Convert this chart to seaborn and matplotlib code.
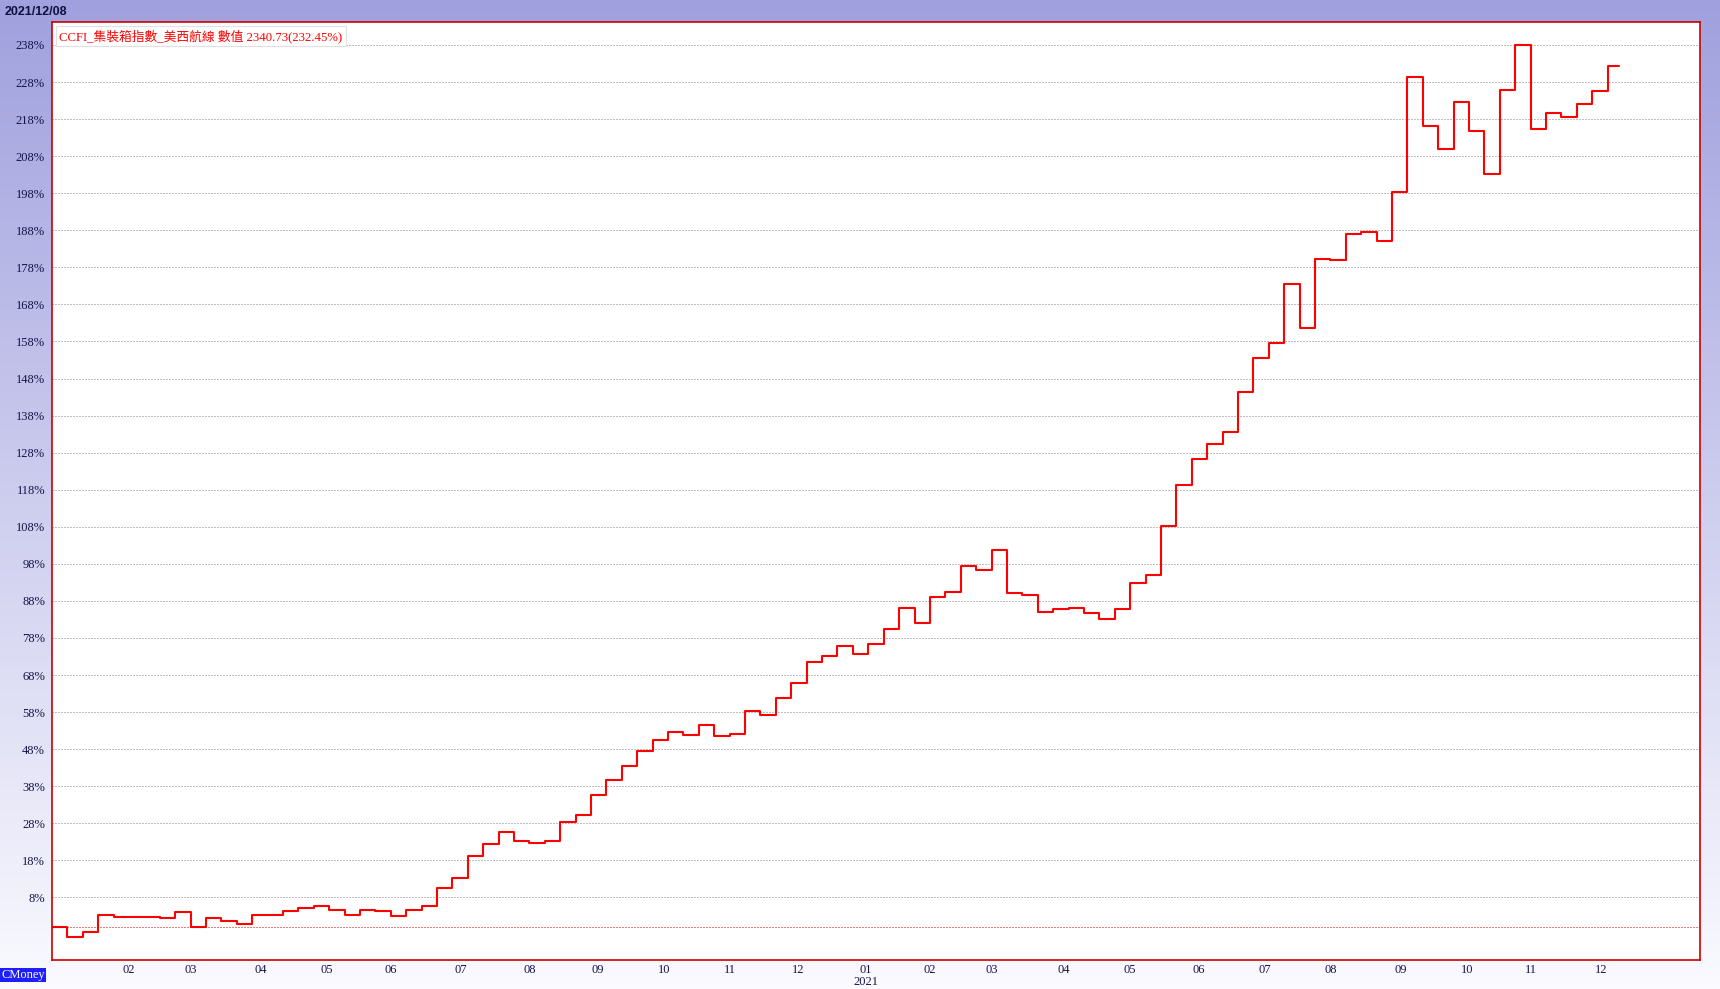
import numpy as np
import pandas as pd
import matplotlib
matplotlib.use("Agg")
import matplotlib.pyplot as plt
import matplotlib.dates as mdates
from matplotlib.colors import LinearSegmentedColormap
import seaborn as sns

# weekly CCFI (US West Coast line), % change vs. base at end of 2019
vals_2020 = [-2.8, -1.4, 3.3, 2.8, 2.8, 2.8, 2.3, 4.0, -0.1, 2.5,
             1.6, 0.7, 3.3, 3.2, 4.4, 5.2, 5.6, 4.5, 3.2, 4.7,
             4.2, 2.9, 4.7, 5.6, 10.4, 13.1, 19.2, 22.4, 25.6, 23.2,
             22.7, 23.2, 28.3, 30.3, 35.7, 39.7, 43.5, 47.5, 50.5, 52.7,
             51.9, 54.6, 51.6, 52.1, 58.3, 57.3, 61.8, 65.8, 71.5, 73.0,
             75.8, 73.8]
vals_2021 = [76.4, 80.5, 86.1, 82.1, 89.1, 90.3, 97.5, 96.2, 101.6, 90.0,
             89.7, 85.1, 85.9, 86.2, 84.6, 83.0, 85.9, 92.8, 95.0, 108.1,
             119.3, 126.3, 130.3, 133.6, 144.4, 153.5, 157.5, 173.5, 161.7, 180.3,
             180.1, 187.1, 187.6, 185.2, 198.3, 229.4, 216.1, 210.0, 222.7, 214.8,
             203.2, 225.8, 238.0, 215.4, 219.7, 218.6, 222.1, 225.6, 232.45]
week_dates = pd.date_range("2020-01-03", "2021-12-03", freq="W-FRI")
base_date = pd.Timestamp("2019-12-27")
last_date = pd.Timestamp("2021-12-08")

y_ticks = list(range(8, 239, 10))
# month marks sit on the last trading day of the previous month
month_ticks = pd.date_range("2020-01-31", "2021-11-30", freq=pd.offsets.BMonthEnd())
month_labels = []
for d in month_ticks:
    m = (d + pd.offsets.MonthBegin(1)).month
    month_labels.append("01\n2021" if m == 1 else f"{m:02d}")

legend_text = "CCFI_集裝箱指數_美西航線 數值 2340.73(232.45%)"
date_text = "2021/12/08"

df = pd.DataFrame({
    "date": [base_date] + list(week_dates) + [last_date],
    "pct": [0.0] + vals_2020 + vals_2021 + [vals_2021[-1]],
})

sns.set_style("white")
plt.rcParams["font.family"] = ["Liberation Serif", "Noto Sans CJK TC", "DejaVu Sans"]

fig = plt.figure(figsize=(17.2, 9.89), dpi=100)

# lavender gradient background
bg = fig.add_axes([0, 0, 1, 1], zorder=-5)
cmap = LinearSegmentedColormap.from_list("lav", ["#A0A0DE", "#FAFAFF"])
bg.imshow(np.linspace(0, 1, 256).reshape(-1, 1), aspect="auto", cmap=cmap,
          extent=[0, 1, 0, 1])
bg.axis("off")

ax = fig.add_axes([52 / 1720, 1 - 960 / 989, 1648 / 1720, 938 / 989])
ax.set_facecolor("white")

sns.lineplot(data=df, x="date", y="pct", drawstyle="steps-post",
             color="#FF0000", lw=1.5, ax=ax, estimator=None)

ax.set_xlim(pd.Timestamp("2019-12-29"), pd.Timestamp("2022-01-14"))
ax.set_ylim(-8.9, 244.2)

ax.set_yticks(y_ticks)
ax.set_yticklabels([f"{v}%" for v in y_ticks])
ax.yaxis.grid(True, color="#808080", ls=(0, (1, 2)), lw=0.72)
ax.xaxis.grid(False)
ax.axhline(0, color="#CC0000", ls=(0, (1, 2)), lw=0.72)
ax.tick_params(axis="y", length=0, pad=5, labelsize=9, labelcolor="#14144A")

ax.set_xticks(mdates.date2num(month_ticks))
ax.set_xticklabels(month_labels)
bdays = pd.bdate_range(base_date, last_date)
ax.set_xticks(mdates.date2num(bdays), minor=True)
ax.tick_params(axis="x", which="major", direction="in", length=4, width=1,
               color="#CC0000", pad=3, labelsize=9, labelcolor="#14144A")
ax.tick_params(axis="x", which="minor", direction="out", length=3, width=1,
               color="#CC0000")
for lab in ax.get_xticklabels():
    lab.set_linespacing(0.95)

for s in ax.spines.values():
    s.set_color("#CC0000")
    s.set_linewidth(1.2)
ax.set_xlabel("")
ax.set_ylabel("")

ax.text(0.0045, 0.985, legend_text, transform=ax.transAxes, color="#FF0000",
        fontsize=9.2, va="center", ha="left",
        bbox=dict(boxstyle="square,pad=0.25", fc="white", ec="#E0E0E0", lw=0.8))

fig.text(5 / 1720, 1 - 12 / 989, date_text, fontsize=9, fontweight="bold",
         family="Liberation Sans", color="#101040", va="center", ha="left")
fig.text(1 / 1720, 1 - 975 / 989, "CMoney", fontsize=9, color="white",
         va="center", ha="left",
         bbox=dict(boxstyle="square,pad=0.1", fc="#1E1EFF", ec="none"))

fig.savefig("out.png", dpi=100)
